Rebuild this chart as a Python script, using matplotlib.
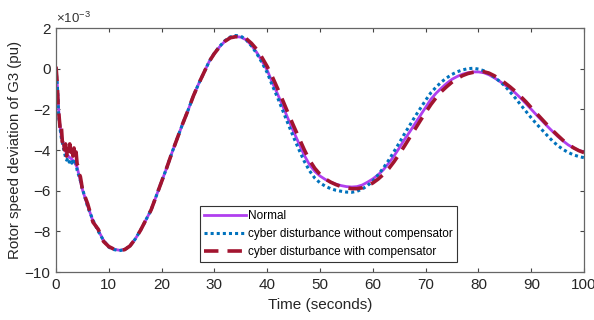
import matplotlib
matplotlib.use("Agg")
import matplotlib.pyplot as plt

plt.rcParams['font.family'] = ['Liberation Sans', 'DejaVu Sans']
plt.rcParams['mathtext.fontset'] = 'custom'
plt.rcParams['mathtext.rm'] = 'Liberation Sans'

# time axis (seconds) for the smooth part, from 5 s on
t_main = [5, 6, 7, 8, 9, 10, 11, 12, 13, 14, 15, 16, 17, 18, 19, 20, 21, 22, 23, 24,
          25, 26, 27, 28, 29, 30, 31, 32, 33, 34, 35, 36, 37, 38, 39, 40, 41, 42, 43, 44,
          45, 46, 47, 48, 49, 50, 51, 52, 53, 54, 55, 56, 57, 58, 59, 60, 61, 62, 63, 64,
          65, 66, 67, 68, 69, 70, 71, 72, 73, 74, 75, 76, 77, 78, 79, 80, 81, 82, 83, 84,
          85, 86, 87, 88, 89, 90, 91, 92, 93, 94, 95, 96, 97, 98, 99, 100]

# rotor speed deviation, x1e-3 pu
normal_main = [-5.95, -6.75, -7.5, -7.95, -8.45, -8.75, -8.88, -8.93, -8.9, -8.72,
               -8.38, -7.95, -7.45, -6.95, -6.25, -5.55, -4.85, -4.1, -3.4, -2.7,
               -2.05, -1.35, -0.75, -0.2, 0.35, 0.75, 1.08, 1.35, 1.52, 1.58,
               1.55, 1.42, 1.15, 0.8, 0.38, -0.08, -0.7, -1.27, -1.88, -2.5,
               -3.1, -3.68, -4.25, -4.72, -5.05, -5.28, -5.45, -5.58, -5.68, -5.75,
               -5.8, -5.82, -5.8, -5.72, -5.58, -5.42, -5.22, -4.97, -4.65, -4.3,
               -3.9, -3.48, -3.1, -2.7, -2.3, -1.9, -1.5, -1.2, -0.95, -0.72,
               -0.52, -0.38, -0.27, -0.2, -0.16, -0.16, -0.2, -0.3, -0.45, -0.62,
               -0.8, -0.98, -1.2, -1.45, -1.72, -2.0, -2.28, -2.55, -2.82, -3.08,
               -3.33, -3.55, -3.75, -3.9, -4.02, -4.1]

without_main = [-5.9, -6.8, -7.45, -8.0, -8.45, -8.78, -8.9, -8.95, -8.9, -8.72,
                -8.38, -7.95, -7.45, -6.95, -6.25, -5.55, -4.85, -4.1, -3.4, -2.7,
                -2.05, -1.35, -0.75, -0.2, 0.35, 0.77, 1.1, 1.38, 1.56, 1.63,
                1.6, 1.42, 1.12, 0.75, 0.3, -0.2, -0.85, -1.45, -2.1, -2.75,
                -3.38, -3.98, -4.55, -5.02, -5.38, -5.62, -5.78, -5.9, -5.98, -6.03,
                -6.07, -6.08, -6.03, -5.92, -5.75, -5.52, -5.22, -4.88, -4.5, -4.08,
                -3.65, -3.2, -2.78, -2.35, -1.95, -1.55, -1.18, -0.9, -0.65, -0.45,
                -0.28, -0.15, -0.06, 0.0, 0.02, -0.02, -0.1, -0.25, -0.42, -0.62,
                -0.85, -1.15, -1.45, -1.78, -2.1, -2.42, -2.72, -3.0, -3.28, -3.55,
                -3.78, -3.97, -4.12, -4.24, -4.32, -4.38]

with_main = [-5.95, -6.65, -7.55, -7.9, -8.5, -8.75, -8.88, -8.93, -8.9, -8.72,
             -8.38, -7.95, -7.45, -6.95, -6.25, -5.55, -4.85, -4.1, -3.4, -2.7,
             -2.05, -1.35, -0.75, -0.2, 0.35, 0.75, 1.08, 1.35, 1.52, 1.57,
             1.57, 1.48, 1.25, 0.95, 0.55, 0.1, -0.42, -1.0, -1.6, -2.22,
             -2.82, -3.4, -3.98, -4.5, -4.9, -5.2, -5.42, -5.58, -5.7, -5.8,
             -5.86, -5.9, -5.9, -5.86, -5.76, -5.62, -5.43, -5.2, -4.92, -4.58,
             -4.2, -3.8, -3.38, -2.97, -2.55, -2.15, -1.76, -1.42, -1.12, -0.88,
             -0.66, -0.48, -0.34, -0.24, -0.18, -0.14, -0.15, -0.22, -0.35, -0.52,
             -0.7, -0.9, -1.12, -1.37, -1.63, -1.92, -2.2, -2.48, -2.76, -3.03,
             -3.28, -3.52, -3.72, -3.89, -4.03, -4.13]

# disturbed start (0-5 s)
t_normal_start = [0, 0.3, 0.6, 1.0, 1.5, 2.0, 2.5, 3.0, 3.5, 4.0]
normal_start = [0.0, -1.0, -2.5, -3.3, -3.8, -4.2, -4.35, -4.45, -4.6, -4.85]

t_without_start = [0, 0.25, 0.5, 0.75, 1.0, 1.25, 1.5, 1.75, 2.0, 2.25, 2.5, 2.75,
                   3.0, 3.25, 3.5, 3.75, 4.0, 4.5]
without_start = [0.0, -0.8, -2.3, -2.9, -3.4, -3.7, -4.0, -4.3, -4.5, -4.4, -4.6, -4.45,
                 -4.65, -4.5, -4.7, -4.6, -5.0, -5.4]

t_with_start = [0, 0.2, 0.4, 0.6, 0.8, 1.0, 1.2, 1.4, 1.6, 1.8, 2.0, 2.2, 2.4, 2.6,
                2.8, 3.0, 3.2, 3.4, 3.6, 3.8, 4.0, 4.2, 4.4, 4.6, 4.8]
with_start = [0.1, -0.6, -1.8, -2.4, -3.0, -2.8, -3.6, -3.4, -4.0, -3.7, -4.3, -3.9,
              -4.2, -3.7, -4.1, -3.8, -4.3, -3.9, -4.3, -4.1, -4.7, -4.8, -5.2, -5.3, -5.6]

fig = plt.figure(figsize=(5.94, 3.2), dpi=100)
ax = fig.add_axes([0.0943, 0.15, 0.889, 0.7625])

ax.plot(t_normal_start + t_main, normal_start + normal_main, color='#B03FEF',
        lw=2.0, label='Normal')
ax.plot(t_without_start + t_main, without_start + without_main, color='#0072BD',
        lw=2.2, ls=(0, (1, 1)), label='cyber disturbance without compensator')
ax.plot(t_with_start + t_main, with_start + with_main, color='#A2142F',
        lw=2.6, ls=(0, (4, 2.5)), label='cyber disturbance with compensator')

ax.set_xlim(0, 100)
ax.set_ylim(-10, 2)
ax.set_xticks(range(0, 101, 10))
ax.set_yticks(range(-10, 3, 2))
ax.tick_params(direction='in', top=True, right=True, labelsize=11,
               colors='#444444', length=3, width=0.8, pad=4)
for lab in ax.get_xticklabels() + ax.get_yticklabels():
    lab.set_color('#262626')
for s in ax.spines.values():
    s.set_color('#666666')
    s.set_linewidth(0.9)

ax.set_xlabel('Time (seconds)', fontsize=11, color='#262626', labelpad=5)
ax.set_ylabel('Rotor speed deviation of G3 (pu)', fontsize=10.8, color='#262626', labelpad=2)
ax.text(0.0, 1.008, r'$\times10^{-3}$', transform=ax.transAxes, fontsize=9.5,
        color='#333333', va='bottom', ha='left')

leg = ax.legend(loc='lower left', bbox_to_anchor=(0.273, 0.041), fontsize=8.5,
                handlelength=3.5, handletextpad=0.2, borderpad=0.35, labelspacing=0.5,
                fancybox=False, framealpha=1, borderaxespad=0)
leg.get_frame().set_edgecolor('#333333')
leg.get_frame().set_linewidth(0.8)

fig.savefig('out.png', dpi=100)
